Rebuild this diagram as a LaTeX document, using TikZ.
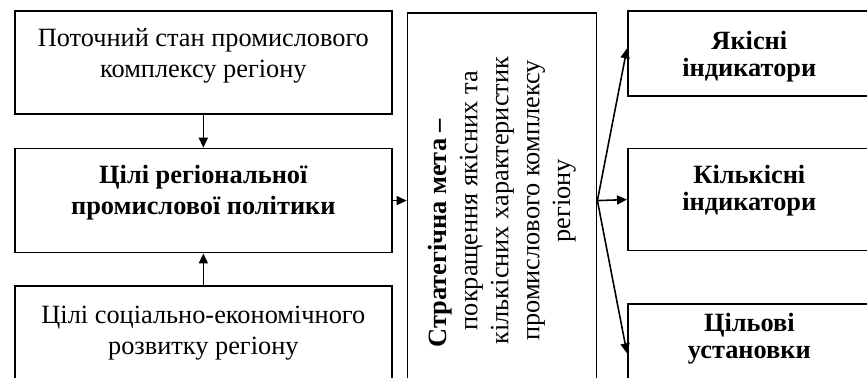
\documentclass[tikz,border=0pt]{standalone}
\usepackage{fontspec}
\setmainfont{Liberation Serif}
\usepackage{tikz}
\usetikzlibrary{positioning, arrows.meta}

\begin{document}
\begin{tikzpicture}[x=0.02cm, y=-0.02cm,
    box/.style={draw, line width=1pt, inner sep=0pt},
    txt/.style={align=center, inner sep=0pt, font=\fontsize{15}{17.6}\selectfont},
    btxt/.style={txt, font=\fontsize{15}{17.6}\selectfont\bfseries},
    rtxt/.style={align=center, inner sep=0pt, font=\fontsize{15}{15.3}\selectfont\bfseries},
    arr/.style={-{Triangle[length=0.2cm, width=0.18cm]}, line width=0.9pt}]
    \useasboundingbox (0,0) rectangle (867,378);
    \clip (0,0) rectangle (867,378);

    % left column
    \node[box, anchor=north west, minimum width=7.54cm, minimum height=2.06cm] (cur) at (14,10) {};
    \node[box, minimum width=7.54cm, minimum height=2.08cm] (pol) [below=0.66cm of cur] {};
    \node[box, minimum width=7.54cm, minimum height=2.3cm, anchor=north] (soc) [below=0.64cm of pol] {};
    \node[txt] (curtxt) [below=0.36cm of cur.north] {Поточний стан промислового\\комплексу регіону};
    \node[btxt] (poltxt) [below=0.34cm of pol.north] {Цілі регіональної\\промислової політики};
    \node[txt] (soctxt) [below=0.4cm of soc.north] {Цілі соціально-економічного\\розвитку регіону};

    % strategic goal
    \node[box, minimum width=3.78cm, minimum height=7.52cm] (goal) [right=0.28cm of pol] {};
    \node[txt, rotate=90] (goaltxt) at (goal.center)
        {\textbf{Стратегічна мета –}\hspace*{1.3cm}\\покращення якісних та\\кількісних характеристик\\промислового комплексу\\регіону};

    % indicators
    \node[box, anchor=north west, minimum width=4.86cm, minimum height=1.7cm] (qual) at (627,10) {};
    \node[box, minimum width=4.86cm, minimum height=2.04cm] (quant) [below=1.02cm of qual] {};
    \node[box, minimum width=4.86cm, minimum height=1.5cm] (targ) [below=1.04cm of quant] {};
    \node[rtxt] (qualtxt) at ([yshift=-0.06cm]qual.center) {Якісні\\індикатори};
    \node[rtxt] (quanttxt) [below=0.34cm of quant.north] {Кількісні\\індикатори};
    \node[rtxt] (targtxt) at ([yshift=0.06cm]targ.center) {Цільові\\установки};

    \draw[arr] (cur) -- (pol);
    \draw[arr] (soc) -- (pol);
    \draw[arr] (pol) -- (goal);
    \draw[arr] (goal.east) -- ([yshift=0.1cm]qual.west);
    \draw[arr] (goal.east) -- (quant.west);
    \draw[arr] (goal.east) -- ([yshift=-0.23cm]targ.west);
\end{tikzpicture}
\end{document}
